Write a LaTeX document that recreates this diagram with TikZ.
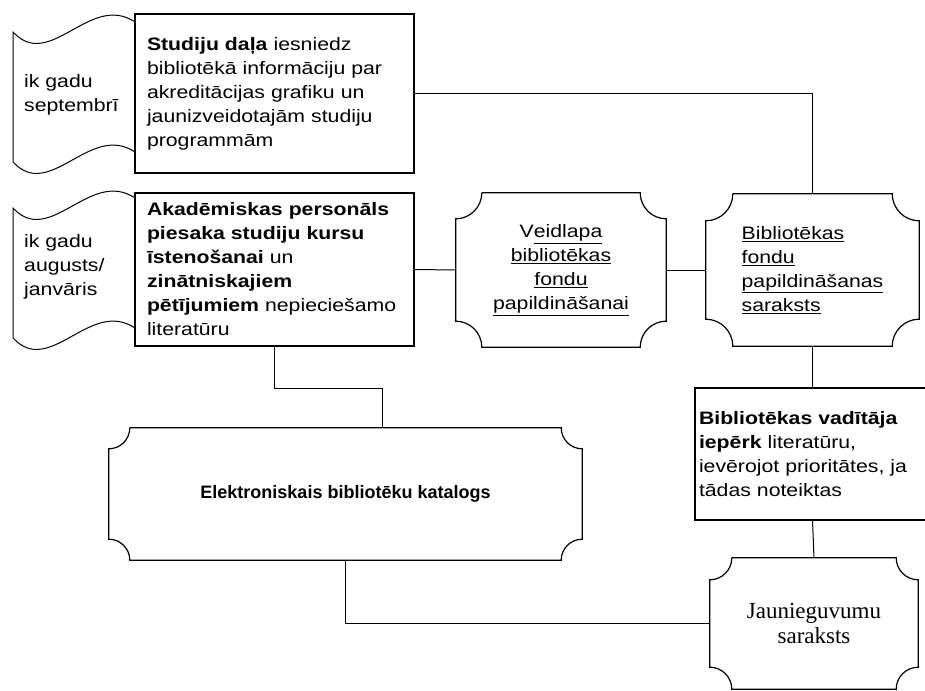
\documentclass[tikz,border=0pt]{standalone}
\usepackage{fontspec}
\setmainfont{Liberation Sans}
\newfontfamily\boxfont[FakeStretch=1.18]{Liberation Sans}
\newfontfamily\listfont{Liberation Serif}
\usetikzlibrary{calc}

\newcommand{\plaqueframe}[2]{%
  \draw[frame] ($(#1.north west)+(#2,0)$) -- ($(#1.north east)-(#2,0)$)
    arc[start angle=180,end angle=270,radius=#2] -- ($(#1.south east)+(0,#2)$)
    arc[start angle=90,end angle=180,radius=#2] -- ($(#1.south west)+(#2,0)$)
    arc[start angle=0,end angle=90,radius=#2] -- ($(#1.north west)-(0,#2)$)
    arc[start angle=270,end angle=360,radius=#2];}

\begin{document}
\begin{tikzpicture}[x=1pt,y=1pt,
    txt/.style={font=\boxfont\fontsize{18}{24}\selectfont},
    box/.style={txt,draw,line width=1.2pt,align=left,inner xsep=12pt},
    plaque/.style={txt,inner sep=0pt},
    frame/.style={line width=1.2pt},
    link/.style={line width=1pt}]
  \useasboundingbox (0,0) rectangle (925,-690);
  \node[box,minimum width=279pt,minimum height=159pt,text width=255pt] (Stud) at (274.5,-93.5)
    {\textbf{Studiju daļa} iesniedz\\ bibliotēkā informāciju par\\ akreditācijas grafiku un\\ jaunizveidotajām studiju\\ programmām};
  \node[box,minimum width=279pt,minimum height=153pt,text width=255pt] (Akad) at (274.5,-269.5)
    {\textbf{Akadēmiskas personāls}\\ \textbf{piesaka studiju kursu}\\ \textbf{īstenošanai} un\\ \textbf{zinātniskajiem}\\ \textbf{pētījumiem} nepieciešamo\\ literatūru};
  \node[txt,align=left,anchor=west,inner sep=0pt] (Sept) at (24,-95) {ik gadu\\ septembrī};
  \node[txt,align=left,anchor=west,inner sep=0pt] (Aug) at (24,-266.5) {ik gadu\\ augusts/\\ janvāris};
  \node[plaque,align=center,minimum width=210pt,minimum height=154pt] (Veid) at (561,-270)
    {V\underline{eidlapa}\\ \underline{bibliotēkas}\\ \underline{fondu}\\ \underline{papildināšanai}};
  \node[plaque,align=left,minimum width=213pt,minimum height=152pt] (Sar) at (812.5,-270)
    {\underline{Bibliotēkas}\\ \underline{fondu}\\ \underline{papildināšanas}\\ \underline{saraksts}};
  \node[box,inner xsep=4pt,minimum width=235pt,minimum height=132pt,text width=227pt] (Vad) at (812.5,-454)
    {\textbf{Bibliotēkas vadītāja}\\ \textbf{iepērk} literatūru,\\ ievērojot prioritātes, ja\\ tādas noteiktas};
  \node[plaque,font=\bfseries\fontsize{18}{24}\selectfont,minimum width=473pt,minimum height=132pt] (Kat) at (345.5,-494)
    {Elektroniskais bibliotēku katalogs};
  \node[plaque,font=\listfont\fontsize{23}{25}\selectfont,align=center,minimum width=208pt,minimum height=131pt] (Jaun) at (814,-623.5)
    {Jaunieguvumu\\ saraksts};
  \foreach \n/\r in {Veid/26pt,Sar/27pt,Kat/21pt,Jaun/22pt}
    {\plaqueframe{\n}{\r}}
  \draw[frame,line width=1pt] (135,-22) .. controls (90,8) and (50,-72) .. (13,-32) -- (13,-162)
    .. controls (50,-202) and (90,-122) .. (135,-152);
  \draw[frame,line width=1pt] (135,-198) .. controls (90,-168) and (50,-248) .. (13,-208) -- (13,-338)
    .. controls (50,-378) and (90,-298) .. (135,-328);
  \coordinate (kbend) at (382,-388);
  \draw[link] (Stud.east) -| (Sar.north);
  \draw[link] (Akad.east) -- (Veid.west);
  \draw[link] (Veid.east) -- (Sar.west);
  \draw[link] (Sar.south) -- (Vad.north);
  \draw[link] (Vad.south) -- (Jaun.north);
  \draw[link] (Akad.south) |- (kbend) -- (kbend |- Kat.north);
  \draw[link] (Kat.south) |- (Jaun.west);
\end{tikzpicture}
\end{document}
